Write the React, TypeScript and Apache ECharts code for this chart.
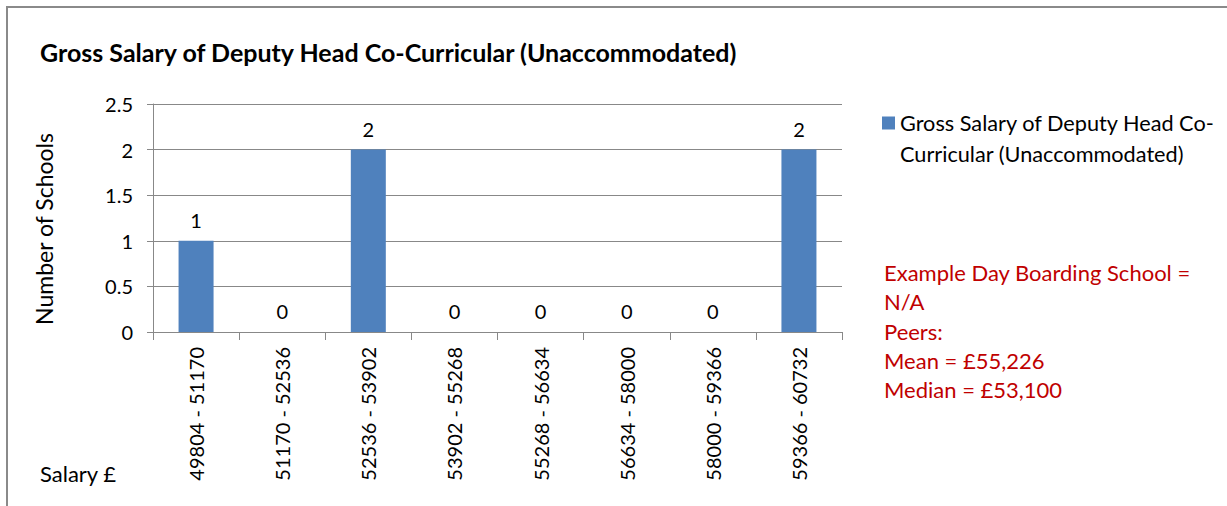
import React, { useEffect, useRef } from "react";
import * as echarts from "echarts";

const categories = [
  "49804 - 51170",
  "51170 - 52536",
  "52536 - 53902",
  "53902 - 55268",
  "55268 - 56634",
  "56634 - 58000",
  "58000 - 59366",
  "59366 - 60732",
];
const counts = [1, 0, 2, 0, 0, 0, 0, 2];
const seriesName = "Gross Salary of Deputy Head Co-Curricular (Unaccommodated)";
const legendLines = ["Gross Salary of Deputy Head Co-", "Curricular (Unaccommodated)"];
const titleText = "Gross Salary of Deputy Head Co-Curricular (Unaccommodated)";
const yAxisName = "Number of Schools";
const xAxisName = "Salary £";
const noteLines = [
  "Example Day Boarding School =",
  "N/A",
  "Peers:",
  "Mean = £55,226",
  "Median = £53,100",
];

const FONT = "Lato, 'Noto Sans', sans-serif";

export default function App() {
  const ref = useRef<HTMLDivElement>(null);
  useEffect(() => {
    if (!ref.current) return;
    const chart = echarts.init(ref.current, undefined, { renderer: "svg" });
    chart.setOption({
      animation: false,
      backgroundColor: "#ffffff",
      textStyle: { fontFamily: FONT },
      grid: { left: 153, right: 385, top: 104, bottom: 174, containLabel: false },
      legend: {
        left: 882,
        top: 112,
        padding: 0,
        itemWidth: 13,
        itemHeight: 13,
        itemGap: 0,
        icon: "rect",
        formatter: () => legendLines[0],
        textStyle: {
          fontFamily: FONT,
          fontSize: 21.7,
          color: "#000",
          lineHeight: 22,
        },
      },
      xAxis: {
        type: "category",
        data: categories,
        axisLine: { show: true, lineStyle: { color: "#888", width: 1 } },
        axisTick: { show: true, length: 8, alignWithLabel: false, lineStyle: { color: "#888" } },
        axisLabel: {
          rotate: 90,
          interval: 0,
          margin: 15,
          fontSize: 20,
          color: "#000",
          fontFamily: FONT,
        },
      },
      yAxis: {
        type: "value",
        min: 0,
        max: 2.5,
        interval: 0.5,
        axisLine: { show: true, lineStyle: { color: "#888", width: 1 } },
        axisTick: { show: true, length: 6, lineStyle: { color: "#888" } },
        axisLabel: { fontSize: 20, color: "#000", margin: 20, fontFamily: FONT },
        splitLine: { show: true, lineStyle: { color: "#888", width: 1 } },
      },
      series: [
        {
          name: seriesName,
          type: "bar",
          data: counts,
          barWidth: 35,
          itemStyle: { color: "#4f81bd" },
          label: {
            show: true,
            position: "top",
            distance: 11,
            fontSize: 20,
            color: "#000",
            fontFamily: FONT,
          },
        },
      ],
      graphic: [
        {
          type: "rect",
          shape: { x: 7, y: 7, width: 1400, height: 700 },
          style: { fill: "none", stroke: "#8a8a8a", lineWidth: 2 },
          silent: true,
        },
        {
          type: "text",
          x: 40,
          y: 52,
          style: {
            text: titleText,
            font: `bold 25px ${FONT}`,
            fill: "#000",
            align: "left",
            verticalAlign: "middle",
          },
        },
        {
          type: "text",
          x: 900,
          y: 154,
          style: {
            text: legendLines[1],
            font: `21.7px ${FONT}`,
            fill: "#000",
            align: "left",
            verticalAlign: "middle",
          },
        },
        {
          type: "text",
          x: 44,
          y: 229,
          rotation: Math.PI / 2,
          style: {
            text: yAxisName,
            font: `23px ${FONT}`,
            fill: "#000",
            align: "center",
            verticalAlign: "middle",
          },
        },
        {
          type: "text",
          x: 40,
          y: 473,
          style: {
            text: xAxisName,
            font: `22px ${FONT}`,
            fill: "#000",
            align: "left",
            verticalAlign: "middle",
          },
        },
        {
          type: "text",
          x: 884,
          y: 258,
          style: {
            text: noteLines.join("\n"),
            font: `22px ${FONT}`,
            lineHeight: 29.2,
            fill: "#c00000",
            align: "left",
            verticalAlign: "top",
          },
        },
      ],
    });
    return () => chart.dispose();
  }, []);
  return (
    <div
      ref={ref}
      style={{ position: "absolute", left: 0, top: 0, width: 1227, height: 506 }}
    />
  );
}
